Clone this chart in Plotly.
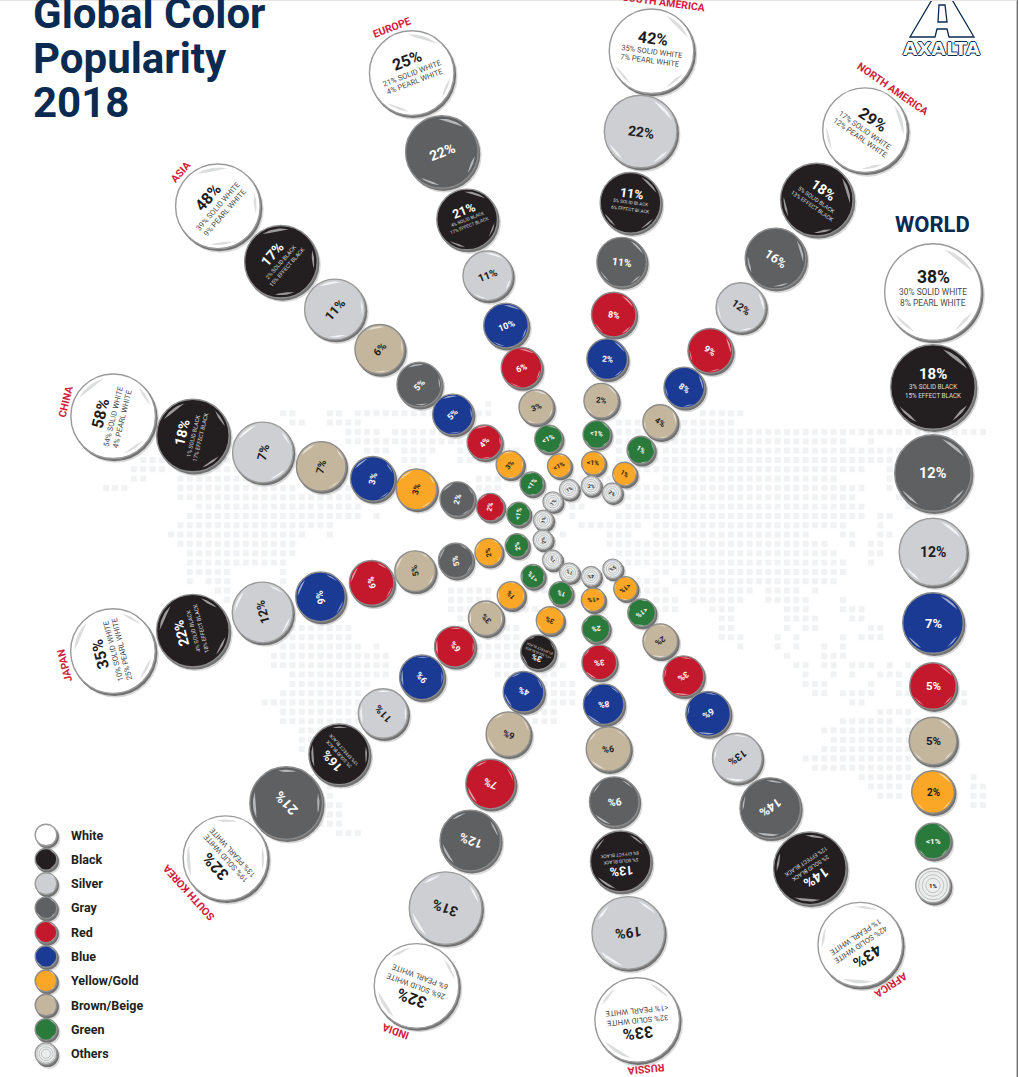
"""
Global Color Popularity 2018 - radial bubble infographic drawn with Plotly.
"""
import math

import plotly.graph_objects as go

W, H = 1019, 1077
NAVY = "#0b2a52"
RED_LABEL = "#d2213c"
FONT = "Roboto"

# ---- data ----
COLOR_NAMES = ["White", "Black", "Silver", "Gray", "Red", "Blue", "Yellow/Gold", "Brown/Beige", "Green", "Others"]
COLOR_HEX = ["#ffffff", "#231f20", "#cdcfd2", "#5e6062", "#c4182d", "#1b3a94", "#faa626", "#c4b59d", "#2a7a3c", "#eceded"]

WORLD_COLORS = ["White", "Black", "Gray", "Silver", "Blue", "Red", "Brown/Beige", "Yellow/Gold", "Green", "Others"]
WORLD_VALUES = ["38%", "18%", "12%", "12%", "7%", "5%", "5%", "2%", "<1%", "1%"]
WORLD_WHITE = ["30% SOLID WHITE", "8% PEARL WHITE"]
WORLD_BLACK = ["3% SOLID BLACK", "15% EFFECT BLACK"]

SA_COLORS = ["White", "Silver", "Black", "Gray", "Red", "Blue", "Brown/Beige", "Green", "Yellow/Gold", "Others"]
SA_VALUES = ["42%", "22%", "11%", "11%", "8%", "2%", "2%", "<1%", "<1%", "2%"]
SA_WHITE = ["35% SOLID WHITE", "7% PEARL WHITE"]
SA_BLACK = ["5% SOLID BLACK", "6% EFFECT BLACK"]

NA_COLORS = ["White", "Black", "Gray", "Silver", "Red", "Blue", "Brown/Beige", "Green", "Yellow/Gold", "Others"]
NA_VALUES = ["29%", "18%", "16%", "12%", "9%", "8%", "4%", "1%", "1%", "2%"]
NA_WHITE = ["17% SOLID WHITE", "12% PEARL WHITE"]
NA_BLACK = ["5% SOLID BLACK", "13% EFFECT BLACK"]

AFRICA_COLORS = ["White", "Black", "Gray", "Silver", "Blue", "Red", "Brown/Beige", "Green", "Yellow/Gold", "Others"]
AFRICA_VALUES = ["43%", "14%", "14%", "13%", "6%", "3%", "2%", "<1%", "<1%", "5%"]
AFRICA_WHITE = ["42% SOLID WHITE", "1% PEARL WHITE"]
AFRICA_BLACK = ["2% SOLID BLACK", "12% EFFECT BLACK"]

RUSSIA_COLORS = ["White", "Silver", "Black", "Gray", "Brown/Beige", "Blue", "Red", "Green", "Yellow/Gold", "Others"]
RUSSIA_VALUES = ["33%", "19%", "13%", "9%", "9%", "8%", "3%", "2%", "<1%", "4%"]
RUSSIA_WHITE = ["32% SOLID WHITE", "<1% PEARL WHITE"]
RUSSIA_BLACK = ["5% SOLID BLACK", "8% EFFECT BLACK"]

INDIA_COLORS = ["White", "Silver", "Gray", "Red", "Brown/Beige", "Blue", "Black", "Yellow/Gold", "Green", "Others"]
INDIA_VALUES = ["32%", "31%", "12%", "7%", "6%", "4%", "3%", "3%", "1%", "1%"]
INDIA_WHITE = ["26% SOLID WHITE", "6% PEARL WHITE"]
INDIA_BLACK = ["<1% SOLID BLACK", "3% EFFECT BLACK"]

KOREA_COLORS = ["White", "Gray", "Black", "Silver", "Blue", "Red", "Brown/Beige", "Yellow/Gold", "Green", "Others"]
KOREA_VALUES = ["32%", "21%", "16%", "11%", "9%", "6%", "3%", "1%", "<1%", "1%"]
KOREA_WHITE = ["19% SOLID WHITE", "13% PEARL WHITE"]
KOREA_BLACK = ["3% SOLID BLACK", "13% EFFECT BLACK"]

JAPAN_COLORS = ["White", "Black", "Silver", "Blue", "Red", "Brown/Beige", "Gray", "Yellow/Gold", "Green", "Others"]
JAPAN_VALUES = ["35%", "22%", "12%", "9%", "6%", "5%", "5%", "2%", "2%", "2%"]
JAPAN_WHITE = ["10% SOLID WHITE", "25% PEARL WHITE"]
JAPAN_BLACK = ["4% SOLID BLACK", "18% EFFECT BLACK"]

CHINA_COLORS = ["White", "Black", "Silver", "Brown/Beige", "Blue", "Yellow/Gold", "Gray", "Red", "Green", "Others"]
CHINA_VALUES = ["58%", "18%", "7%", "7%", "3%", "3%", "2%", "2%", "<1%", "1%"]
CHINA_WHITE = ["54% SOLID WHITE", "4% PEARL WHITE"]
CHINA_BLACK = ["1% SOLID BLACK", "17% EFFECT BLACK"]

ASIA_COLORS = ["White", "Black", "Silver", "Brown/Beige", "Gray", "Blue", "Red", "Yellow/Gold", "Green", "Others"]
ASIA_VALUES = ["48%", "17%", "11%", "6%", "5%", "5%", "4%", "3%", "<1%", "1%"]
ASIA_WHITE = ["39% SOLID WHITE", "9% PEARL WHITE"]
ASIA_BLACK = ["2% SOLID BLACK", "15% EFFECT BLACK"]

EUROPE_COLORS = ["White", "Gray", "Black", "Silver", "Blue", "Red", "Brown/Beige", "Green", "Yellow/Gold", "Others"]
EUROPE_VALUES = ["25%", "22%", "21%", "11%", "10%", "6%", "3%", "<1%", "<1%", "1%"]
EUROPE_WHITE = ["21% SOLID WHITE", "4% PEARL WHITE"]
EUROPE_BLACK = ["4% SOLID BLACK", "17% EFFECT BLACK"]

ARMS = [
    ("SOUTH AMERICA", SA_COLORS, SA_VALUES, SA_WHITE, SA_BLACK),
    ("NORTH AMERICA", NA_COLORS, NA_VALUES, NA_WHITE, NA_BLACK),
    ("AFRICA", AFRICA_COLORS, AFRICA_VALUES, AFRICA_WHITE, AFRICA_BLACK),
    ("RUSSIA", RUSSIA_COLORS, RUSSIA_VALUES, RUSSIA_WHITE, RUSSIA_BLACK),
    ("INDIA", INDIA_COLORS, INDIA_VALUES, INDIA_WHITE, INDIA_BLACK),
    ("SOUTH KOREA", KOREA_COLORS, KOREA_VALUES, KOREA_WHITE, KOREA_BLACK),
    ("JAPAN", JAPAN_COLORS, JAPAN_VALUES, JAPAN_WHITE, JAPAN_BLACK),
    ("CHINA", CHINA_COLORS, CHINA_VALUES, CHINA_WHITE, CHINA_BLACK),
    ("ASIA", ASIA_COLORS, ASIA_VALUES, ASIA_WHITE, ASIA_BLACK),
    ("EUROPE", EUROPE_COLORS, EUROPE_VALUES, EUROPE_WHITE, EUROPE_BLACK),
]

# ---- layout of the wheel ----
CENTER = (587.5, 531)
ARM_ANGLE_OUTER = [7.6, 34.7, 146.6, 174.2, 200.6, 227.9, 255.8, 283.6, 311.3, 339.0]
ARM_ANGLE_INNER = [4.6, 32.8, 146.5, 175.5, 203.6, 230.7, 258.8, 283.9, 310.2, 336.2]
ARM_OUTER_DIST = [484, 487.5, 495.5, 491.5, 486, 488, 489.5, 488, 492, 490.5]
ARM_STRETCH = [0, 0, 1, 1, 0, 3, 4, 3, 5, 3]
REGION_TILT = [7, 0, -3, -4, 4, 0, -3, 4, 2, -2]
RANK_DIST = [490, 403, 331, 271, 218, 173, 131, 97, 68, 45.5]
RANK_RADIUS = [43, 37, 31, 25.5, 23, 21, 18, 14.5, 12.5, 10.5]
RANK_MAIN_FONT = [16, 14, 12.5, 10.5, 9, 8.5, 8, 7, 6.5, 5]
RANK_SUB_FONT = [7.6, 5.6, 4.6, 4, 4, 4, 3.4, 3, 3, 3]

WORLD_X = 933
WORLD_TOP = 292
WORLD_RADIUS = [49, 43, 39, 34.5, 31, 24, 24.5, 22, 18.5, 18]
WORLD_GAPS = [3, 4, 5.5, 5.5, 8, 6.5, 4.5, 8.5, 8]
WORLD_MAIN_FONT = [17.5, 15, 14.5, 14, 13, 11.5, 11.5, 10, 8, 6]

LEGEND_X, LEGEND_TEXT_X = 46, 69
LEGEND_TOP, LEGEND_STEP = 835, 24.3
LEGEND_RADIUS = 11.5

# faint dotted world map: row -> runs of dot columns
MAP_X0, MAP_Y0, MAP_PITCH = 703, 413.3, 9.33
MAP_RUNS = {
    -1: [(-23, -23)],
    0: [(-45, -44), (-40, -39), (-37, -29), (-24, -23), (0, 4)],
    1: [(-44, -43), (-40, -37), (-9, 3)],
    2: [(-38, -35), (-33, -26), (-9, 30)],
    3: [(-38, -34), (-33, -26), (-9, 15), (18, 18)],
    4: [(-36, -34), (-32, -29), (-26, -20), (-9, 21)],
    5: [(-60, -50), (-32, -30), (-26, -20), (-9, 20)],
    6: [(-61, -58), (-56, -50), (-9, 17), (20, 20)],
    7: [(-61, -60), (-56, -47), (-24, -20), (-14, -7), (-4, 14), (20, 20)],
    8: [(-64, -62), (-56, -44), (-40, -36), (-24, -22), (-9, 17), (20, 20)],
    9: [(-56, -43), (-42, -37), (-9, 16), (21, 21)],
    10: [(-54, -37), (-14, -13), (-8, 17), (22, 22)],
    11: [(-55, -43), (-42, -37), (-35, -35), (-14, -14), (-9, 17), (19, 20)],
    12: [(-56, -40), (-13, -7), (-5, 15), (19, 19)],
    13: [(-57, -43), (-40, -40), (-15, -15), (-10, -8), (-5, 11), (15, 16), (19, 20)],
    14: [(-56, -44), (-10, 13), (16, 16), (18, 19)],
    15: [(-55, -44), (-9, 14), (18, 19)],
    16: [(-55, -45), (-8, 15), (18, 18)],
    17: [(-55, -51), (-45, -45), (-5, -4), (-2, 15)],
    18: [(-55, -55), (-53, -51), (-45, -45), (-8, -5), (-3, 14)],
    19: [(-52, -51), (-27, -23), (-21, -17), (-7, -4), (-1, 5), (7, 10), (12, 12)],
    20: [(-51, -51), (-27, -23), (-5, -3), (-1, 4), (7, 11), (15, 15)],
    21: [(-45, -45), (-27, -18), (-5, -3), (1, 3), (9, 11), (15, 17)],
    22: [(-44, -44), (-40, -40), (-26, -22), (2, 3), (9, 12), (16, 17)],
    23: [(-44, -38), (-27, -20), (2, 3), (9, 9), (11, 12), (18, 19)],
    24: [(-44, -38), (-23, -20), (2, 4), (8, 8), (10, 10), (15, 15), (17, 19)],
    25: [(-45, -37), (-35, -35), (-26, -18), (4, 4), (8, 8), (10, 10), (13, 13), (15, 15)],
    26: [(-46, -34), (-24, -16), (9, 9), (13, 15)],
    27: [(-46, -34), (-22, -15), (10, 11), (13, 14), (16, 18), (20, 20), (22, 22)],
    28: [(-44, -34), (-22, -16), (11, 11), (14, 14), (16, 16), (19, 21)],
    29: [(-44, -36), (-20, -14), (11, 13), (18, 18), (21, 21)],
    30: [(-45, -37), (-18, -14), (12, 13), (15, 18), (21, 28)],
    31: [(-47, -37), (-20, -14), (16, 17), (28, 28)],
    32: [(-45, -37), (-20, -16), (19, 22)],
    33: [(-45, -37), (-20, -16), (15, 20), (22, 24)],
    34: [(-43, -37), (13, 22)],
    35: [(-43, -37), (14, 22)],
    36: [(-43, -37), (13, 22)],
    37: [(-41, -37), (11, 22)],
    38: [(-41, -37), (12, 22)],
    39: [(-42, -37), (17, 22), (29, 29)],
    40: [(-40, -40), (18, 21), (29, 30)],
    41: [(-41, -40), (19, 21), (29, 30)],
    42: [(-41, -39), (29, 30)],
    43: [(-41, -39)],
    44: [(-41, -39)],
    45: [(-39, -37)],
}

DARK_TEXT = {"White", "Silver", "Brown/Beige", "Yellow/Gold", "Others"}
HEX_BY_NAME = dict(zip(COLOR_NAMES, COLOR_HEX))


def polar(angle, dist):
    a = math.radians(angle)
    return CENTER[0] + dist * math.sin(a), CENTER[1] - dist * math.cos(a)


def crescent(cx, cy, r, rot, start, end, thick):
    # tapered gloss highlight, angles clockwise from the bubble's "up"
    steps = 14
    xs, ys = [], []
    for i in range(steps + 1):
        p = math.radians(rot + start + (end - start) * i / steps)
        xs.append(cx + r * math.sin(p))
        ys.append(cy - r * math.cos(p))
    for i in range(steps, -1, -1):
        u = i / steps
        rr = r - thick * math.sin(math.pi * u)
        p = math.radians(rot + start + (end - start) * u)
        xs.append(cx + rr * math.sin(p))
        ys.append(cy - rr * math.cos(p))
    return xs + [None], ys + [None]


bubbles = []
annotations = []


def label(x, y, text, size, color, angle=0, bold=False, anchor="center"):
    if angle > 180:
        angle -= 360
    if bold:
        text = "<b>" + text + "</b>"
    annotations.append(dict(
        x=x, y=y, text=text.replace("<1%", "&lt;1%"), showarrow=False,
        xanchor=anchor, yanchor="middle", textangle=angle,
        font=dict(family=FONT, size=size, color=color),
    ))


def add_bubble(cx, cy, r, color, value, rot, main_size, sub_size, subs=None):
    bubbles.append(dict(x=cx, y=cy, r=r, color=color, rot=rot))
    if value is None:
        return
    main_color = "#1d1b1c" if color in DARK_TEXT else "#ffffff"
    sin_t, cos_t = math.sin(math.radians(rot)), math.cos(math.radians(rot))
    if subs:
        sub_color = "#4a4a4a" if color == "White" else "#dedede"
        main_off, off1, off2 = (-0.31 * r, 0.0, 0.22 * r) if r > 15 else (-0.52 * r, -0.05 * r, 0.25 * r)
        label(cx - sin_t * main_off, cy + cos_t * main_off, value, main_size, main_color, rot, True)
        label(cx - sin_t * off1, cy + cos_t * off1, subs[0], sub_size, sub_color, rot)
        label(cx - sin_t * off2, cy + cos_t * off2, subs[1], sub_size, sub_color, rot)
    else:
        label(cx, cy, value, main_size, main_color, rot, True)


# wheel arms, outermost bubble first
for arm, (region, colors, values, whites, blacks) in enumerate(ARMS):
    outer, inner = ARM_ANGLE_OUTER[arm], ARM_ANGLE_INNER[arm]
    for rank, dist in enumerate(RANK_DIST):
        # arms only bend near the hub
        bend = (1 - (dist - RANK_DIST[-1]) / (RANK_DIST[0] - RANK_DIST[-1])) ** 3
        angle = outer + (inner - outer) * bend
        if rank == 0:
            dist = ARM_OUTER_DIST[arm]
        elif rank < len(RANK_DIST) - 1:
            dist += ARM_STRETCH[arm]
        x, y = polar(angle, dist)
        name = colors[rank]
        subs = whites if name == "White" else blacks if name == "Black" else None
        add_bubble(x, y, RANK_RADIUS[rank], name, values[rank], angle,
                   RANK_MAIN_FONT[rank], RANK_SUB_FONT[rank], subs)
    bx, by = polar(outer, ARM_OUTER_DIST[arm])
    tilt = math.radians(outer + REGION_TILT[arm])
    label(bx + 50 * math.sin(tilt), by - 50 * math.cos(tilt), region, 10.5, RED_LABEL, outer, True)

# world column
wy = WORLD_TOP
for rank, name in enumerate(WORLD_COLORS):
    subs = WORLD_WHITE if name == "White" else WORLD_BLACK if name == "Black" else None
    sub_size = 8.4 if name == "White" else 6.3
    add_bubble(WORLD_X, wy, WORLD_RADIUS[rank], name, WORLD_VALUES[rank], 0,
               WORLD_MAIN_FONT[rank], sub_size, subs)
    if rank < len(WORLD_GAPS):
        wy += WORLD_RADIUS[rank] + WORLD_RADIUS[rank + 1] + WORLD_GAPS[rank]

# legend
for i, name in enumerate(COLOR_NAMES):
    ly = LEGEND_TOP + LEGEND_STEP * i
    add_bubble(LEGEND_X, ly, LEGEND_RADIUS, name, None, 0, 0, 0)
    label(LEGEND_TEXT_X, ly, name, 12.5, "#231f20", 0, True, "left")

fig = go.Figure()

# dotted map behind everything
map_x, map_y = [], []
for row, runs in MAP_RUNS.items():
    for c0, c1 in runs:
        for c in range(c0, c1 + 1):
            map_x.append(MAP_X0 + MAP_PITCH * c)
            map_y.append(MAP_Y0 + MAP_PITCH * row)
fig.add_trace(go.Scatter(x=map_x, y=map_y, mode="markers", hoverinfo="skip",
                         marker=dict(symbol="square", size=6, color="#f1f2f4", line_width=0)))

# soft shadow, hard shadow, body
for dx, dy, grow, col in ((2.6, 3.2, 0.5, "rgba(120,120,120,0.28)"), (1.4, 1.9, 0, "rgba(95,95,95,0.85)")):
    fig.add_trace(go.Scatter(
        x=[b["x"] + dx for b in bubbles], y=[b["y"] + dy for b in bubbles],
        mode="markers", hoverinfo="skip",
        marker=dict(size=[2 * b["r"] + grow for b in bubbles], color=col, line_width=0, opacity=1),
    ))
fig.add_trace(go.Scatter(
    x=[b["x"] for b in bubbles], y=[b["y"] for b in bubbles],
    mode="markers", hoverinfo="skip",
    marker=dict(
        size=[2 * b["r"] - 1.4 for b in bubbles],
        color=[HEX_BY_NAME[b["color"]] for b in bubbles],
        opacity=1,
        line=dict(width=1.4, color=["#9a9a9a" if b["color"] in ("White", "Others", "Silver") else "#8c8c8c"
                                    for b in bubbles]),
    ),
))

# concentric rings of "Others"
others = [b for b in bubbles if b["color"] == "Others"]
for frac in (0.8, 0.6, 0.4):
    fig.add_trace(go.Scatter(
        x=[b["x"] for b in others], y=[b["y"] for b in others],
        mode="markers", hoverinfo="skip",
        marker=dict(symbol="circle-open", size=[2 * b["r"] * frac for b in others], opacity=1,
                    color="#b4b6b8", line=dict(width=0.8, color="#b4b6b8")),
    ))

# gloss highlights, one trace per tint
GLOSS_TINT = {"White": "#dcdddd", "Silver": "rgba(255,255,255,0.75)", "Others": "rgba(255,255,255,0)"}
gloss = {}
for b in bubbles:
    tint = GLOSS_TINT.get(b["color"], "rgba(255,255,255,0.55)")
    xs, ys = gloss.setdefault(tint, ([], []))
    r = b["r"] * 0.9
    t = max(0.8, b["r"] * 0.09)
    for start, end, thick in ((15, 62, t), (205, 240, t * 0.7), (118, 150, t * 0.7)):
        cx, cy = crescent(b["x"], b["y"], r, b["rot"], start, end, thick)
        xs += cx
        ys += cy
for tint, (xs, ys) in gloss.items():
    fig.add_trace(go.Scatter(x=xs, y=ys, mode="lines", fill="toself", fillcolor=tint,
                             line=dict(width=0), hoverinfo="skip"))

# title and world heading
for text, y in (("Global Color", 13), ("Popularity", 58), ("2018", 102)):
    label(31, y, text, 42, NAVY, 0, True, "left")
label(932, 224, "WORLD", 22, NAVY, 0, True)

# logo
annotations.append(dict(
    x=942, y=48.5, text="<b>AXALTA</b>", showarrow=False, xanchor="center", yanchor="middle",
    font=dict(family="DejaVu Sans", size=18.5, color="#ffffff",
              shadow=f"1px 0 {NAVY}, -1px 0 {NAVY}, 0 1px {NAVY}, 0 -1px {NAVY}"),
))
logo_path = ("M 910 37 L 933 -2 L 951 -2 L 974 37 L 949 37 L 947 29 L 937 29 L 935 37 Z "
             "M 939 5 L 945 5 L 947 22 L 938 22 Z")
shapes = [
    dict(type="path", path=logo_path, line=dict(color=NAVY, width=1.3), fillcolor="#ffffff", layer="above"),
    dict(type="rect", x0=1016.6, x1=1018, y0=0, y1=H, line_width=0, fillcolor="#6e6e6e", layer="above"),
    dict(type="rect", x0=0, x1=1017, y0=0, y1=1, line_width=0, fillcolor="#e4e4e4", layer="above"),
]

fig.update_layout(
    width=W, height=H,
    margin=dict(l=0, r=0, t=0, b=0),
    paper_bgcolor="#ffffff", plot_bgcolor="#ffffff",
    showlegend=False,
    xaxis=dict(range=[0, W], visible=False, fixedrange=True),
    yaxis=dict(range=[H, 0], visible=False, fixedrange=True),
    annotations=annotations,
    shapes=shapes,
)

fig.write_html("out.html", config={"displayModeBar": False},
               post_script="document.body.style.margin='0';document.body.style.overflow='hidden';")
